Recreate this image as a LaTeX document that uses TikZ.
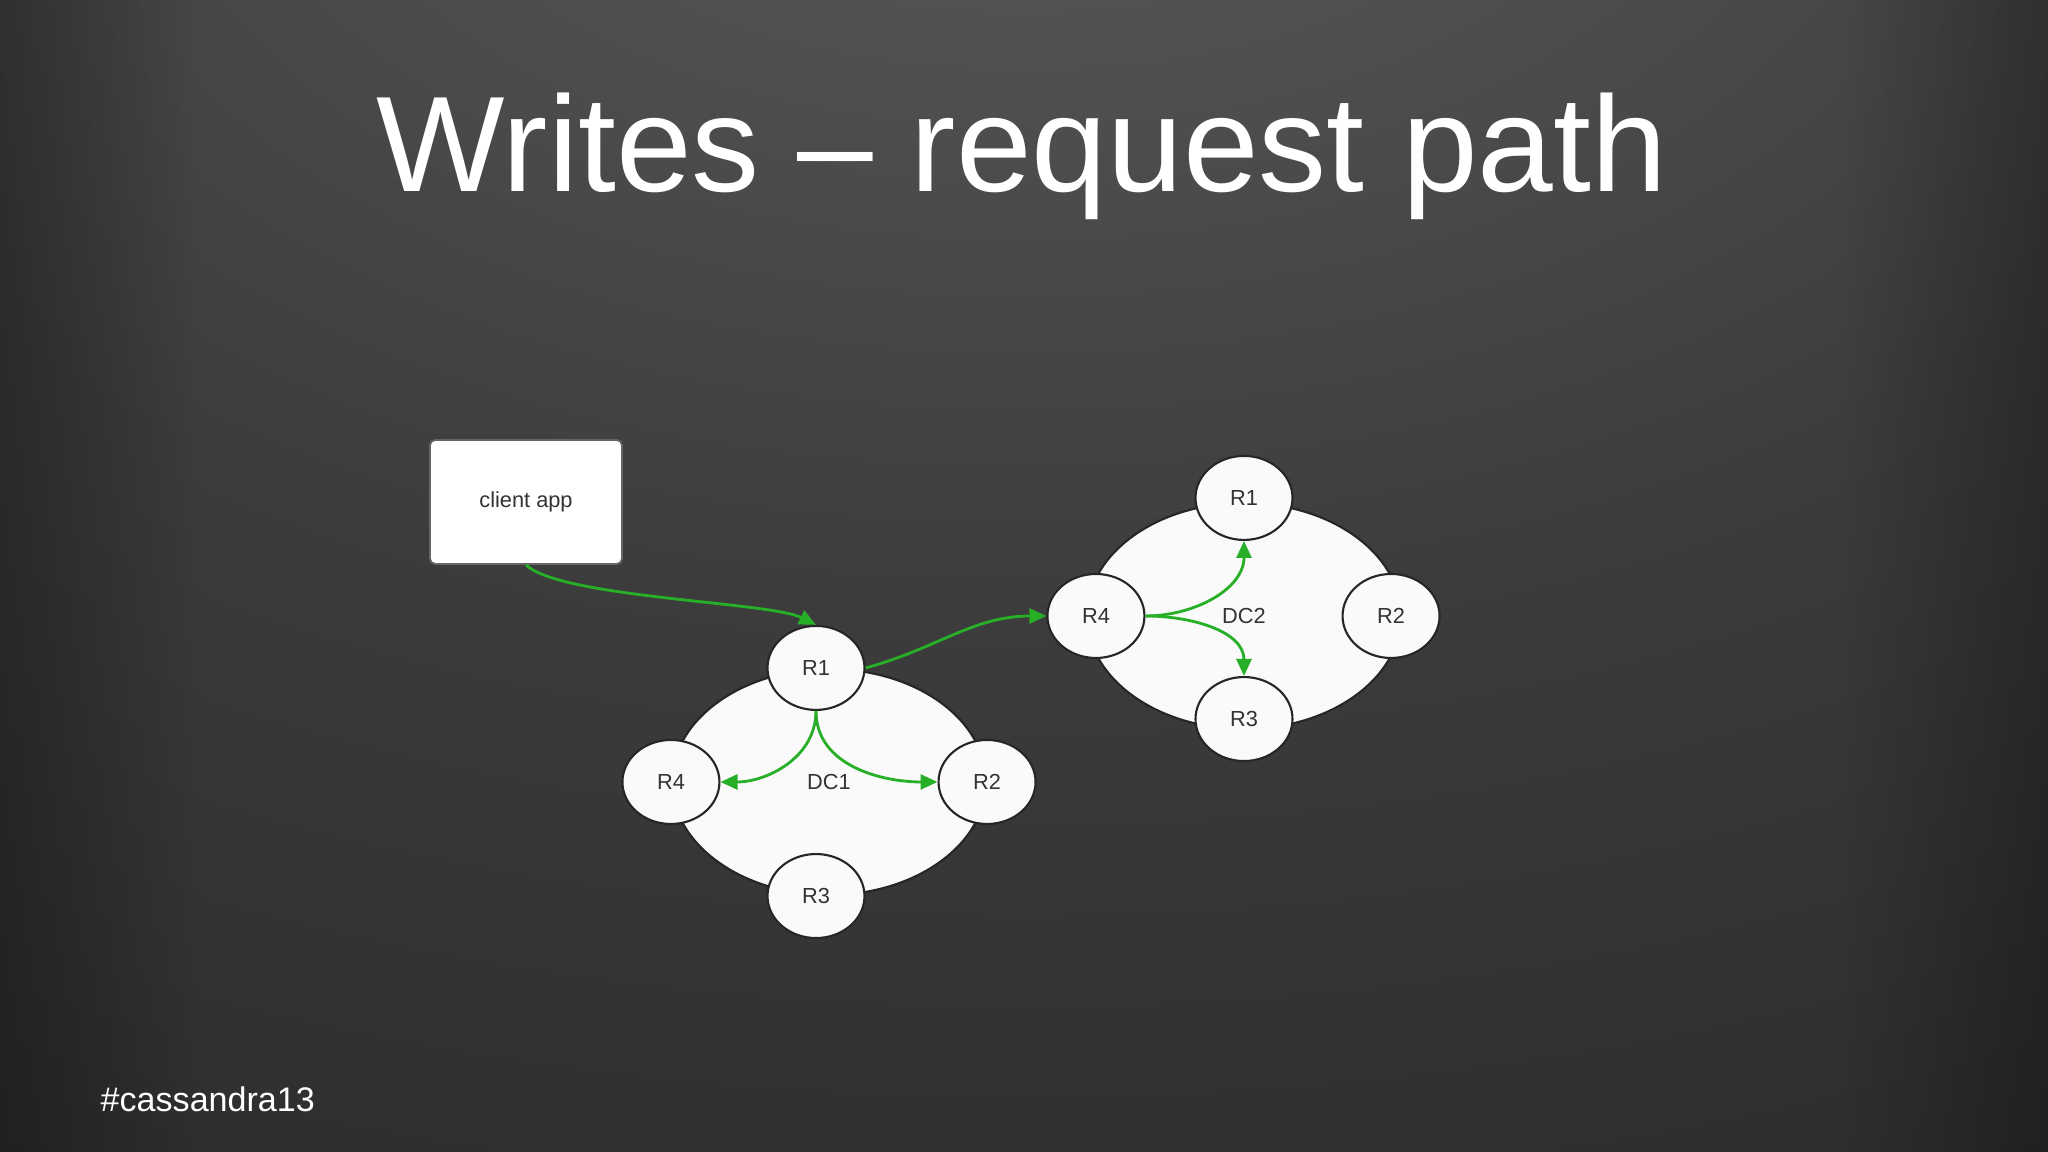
\documentclass[tikz,border=0pt]{standalone}
\usepackage{fontspec}
\setmainfont{Liberation Sans}
\usetikzlibrary{positioning,arrows.meta,shapes.geometric,fadings}
\definecolor{bgtop}{RGB}{94,94,94}
\definecolor{bgmid}{RGB}{60,60,60}
\definecolor{bgbot}{RGB}{36,36,36}
\definecolor{nodefill}{RGB}{250,250,250}
\definecolor{nodeink}{RGB}{51,51,51}
\definecolor{flow}{RGB}{40,175,40}
\pgfdeclareradialshading{slidebg}{\pgfpoint{0bp}{40bp}}{color(0bp)=(bgtop); color(32bp)=(bgmid); color(68bp)=(bgbot); color(130bp)=(bgbot)}
\tikzfading[name=edgeleft, left color=transparent!72, right color=transparent!100]
\tikzfading[name=edgeright, left color=transparent!100, right color=transparent!72]
\tikzset{
  replica/.style={ellipse, draw=black!85, line width=0.6pt, fill=nodefill, text=nodeink,
                  minimum width=0.97cm, minimum height=0.84cm, inner sep=0pt,
                  font=\fontsize{6.2}{7}\selectfont},
  dcring/.style={ellipse, draw=black!85, line width=0.6pt, fill=nodefill, text=nodeink,
                 minimum width=3.14cm, minimum height=2.26cm, font=\fontsize{6.2}{7}\selectfont},
  clientbox/.style={rectangle, rounded corners=1.5pt, draw=black!60, line width=0.5pt, fill=white,
                    text=nodeink, minimum width=1.92cm, minimum height=1.24cm,
                    font=\fontsize{6.2}{7}\selectfont},
  req/.style={-{Triangle[length=1.7mm, width=1.5mm]}, line width=0.8pt, draw=flow},
}

\begin{document}
\begin{tikzpicture}
  \useasboundingbox (0,0) rectangle (20.48,11.52);
  \shade[shading=slidebg] (0,0) rectangle (20.48,11.52);
  \fill[black, path fading=edgeleft] (0,0) rectangle (2.0,11.52);
  \fill[black, path fading=edgeright] (18.4,0) rectangle (20.48,11.52);

  \node[anchor=base, text=white, font=\fontsize{38.7}{42}\selectfont] (title) at (10.22,9.60)
    {Writes \textendash\ request path};
  \node[anchor=base west, inner sep=0pt, text=white, font=\fontsize{9.7}{11}\selectfont] (tag) at (1.00,0.40)
    {\#cassandra13};

  \node[clientbox] (client) at (5.26,6.50) {client app};

  % first data centre
  \node[dcring] (dc1) at (8.29,3.70) {DC1};
  \node[replica] (dc1r1) at ([xshift=-1.3mm]dc1.north) {R1};
  \node[replica] (dc1r2) at (dc1.east) {R2};
  \node[replica] (dc1r3) at ([xshift=-1.3mm]dc1.south) {R3};
  \node[replica] (dc1r4) at (dc1.west) {R4};

  % second data centre
  \node[dcring] (dc2) at (12.44,5.36) {DC2};
  \node[replica] (dc2r1) at ([yshift=0.4mm]dc2.north) {R1};
  \node[replica] (dc2r2) at ([xshift=-1.1mm]dc2.east) {R2};
  \node[replica] (dc2r3) at ([yshift=1.1mm]dc2.south) {R3};
  \node[replica] (dc2r4) at ([xshift=1mm]dc2.west) {R4};

  \draw[req] (client.south) .. controls +(0.34,-0.33) and +(-0.46,0.23) .. (dc1r1.north);
  \draw[req] (dc1r1.east) to[out=15, in=180] (dc2r4.west);
  \draw[req] (dc1r1.south) to[out=-90, in=0] (dc1r4.east);
  \draw[req] (dc1r1.south) to[out=-90, in=180] (dc1r2.west);
  \draw[req] (dc2r4.east) to[out=0, in=-90] (dc2r1.south);
  \draw[req] (dc2r4.east) to[out=0, in=90] (dc2r3.north);
\end{tikzpicture}
\end{document}
